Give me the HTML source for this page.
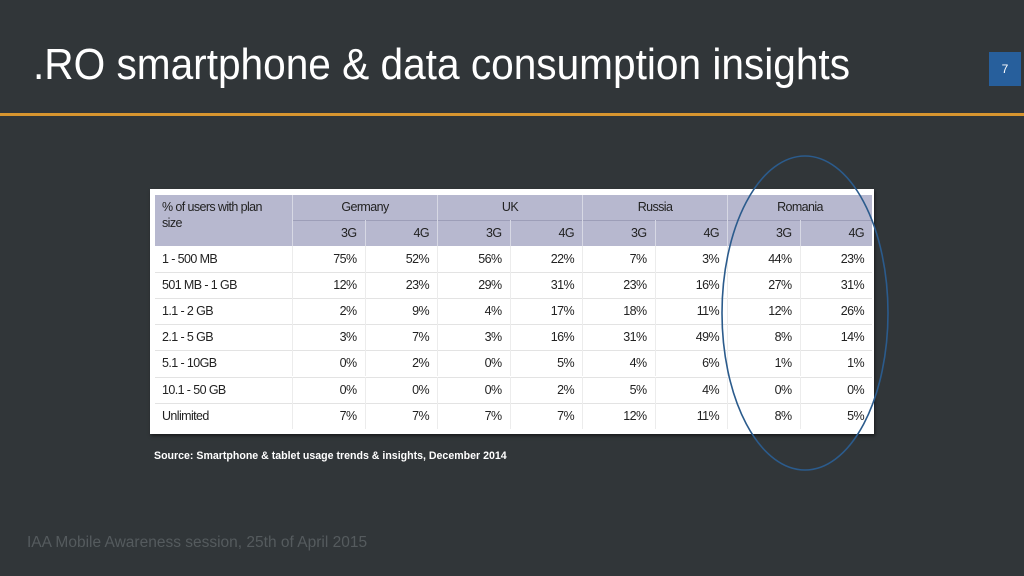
<!DOCTYPE html>
<html><head><meta charset="utf-8">
<style>
body{margin:0;width:1024px;height:576px;background:#313639;position:relative;overflow:hidden;font-family:"Liberation Sans Narrow","Liberation Sans",sans-serif}
#title{position:absolute;left:33px;top:40px;color:#fff;font-size:44px;white-space:nowrap;transform-origin:0 0}
#rule{position:absolute;left:0;top:113px;width:1024px;height:3px;background:#d7952f}
#pnum{position:absolute;left:989px;top:52px;width:32px;height:34px;background:#275f9c;color:#fff;font-family:"Liberation Sans",sans-serif;font-size:12px;text-align:center;line-height:34px}
#tbl{position:absolute;left:150px;top:189px;width:724px;height:245px;background:#fff;box-shadow:1px 2px 3px rgba(0,0,0,.5)}
.c{position:absolute;font-size:12.5px;letter-spacing:-0.6px;color:#222;box-sizing:border-box;white-space:nowrap}
#src{position:absolute;left:154px;top:450px;color:#fff;font-family:"Liberation Sans",sans-serif;font-weight:bold;font-size:10.6px}
#foot{position:absolute;left:27px;top:534px;color:#555b5e;font-family:"Liberation Sans",sans-serif;font-size:15.5px}
svg{position:absolute;left:0;top:0}
</style></head><body>
<div id="title">.RO smartphone &amp; data consumption insights</div>
<div id="pnum">7</div>
<div id="rule"></div>
<div id="tbl"></div>
<div id="src">Source: Smartphone &amp; tablet usage trends &amp; insights, December 2014</div>
<div id="foot">IAA Mobile Awareness session, 25th of April 2015</div>
<svg width="1024" height="576"><ellipse cx="805" cy="313" rx="83" ry="157" fill="none" stroke="#2b5b8c" stroke-width="1.6"/></svg>
<script>
const countries=["Germany","UK","Russia","Romania"];
const techs=["3G","4G"];
const rowLabels=["1 - 500 MB","501 MB - 1 GB","1.1 - 2 GB","2.1 - 5 GB","5.1 - 10GB","10.1 - 50 GB","Unlimited"];
const germany3G=[75,12,2,3,0,0,7], germany4G=[52,23,9,7,2,0,7];
const uk3G=[56,29,4,3,0,0,7], uk4G=[22,31,17,16,5,2,7];
const russia3G=[7,23,18,31,4,5,12], russia4G=[3,16,11,49,6,4,11];
const romania3G=[44,27,12,8,1,0,8], romania4G=[23,31,26,14,1,0,5];
const series=[germany3G,germany4G,uk3G,uk4G,russia3G,russia4G,romania3G,romania4G];

const t=document.getElementById('title');
t.style.transform='scaleX('+(817/t.getBoundingClientRect().width)+')';
const tb=document.getElementById('tbl');
const X0=142,CW=72.5,Y0=6,H1=25,H2=26,RH=26.1;
function add(css,txt){const d=document.createElement('div');d.className='c';Object.assign(d.style,css);if(txt!==undefined)d.textContent=txt;tb.appendChild(d);return d;}
let hb=add({left:'5px',top:Y0+'px',width:(X0+CW*8-5)+'px',height:(H1+H2)+'px',background:'#b7b8cf'});


let hl=add({left:'12px',top:(Y0+4)+'px',lineHeight:'16px'},'');hl.innerHTML='% of users with plan<br>size';


add({left:X0+'px',top:(Y0+H1)+'px',width:(CW*8)+'px',height:'1px',background:'#9d9eb8'});
countries.forEach((c,i)=>{
 const d=add({left:(X0+i*2*CW)+'px',top:Y0+'px',width:(2*CW)+'px',height:H1+'px',lineHeight:H1+'px',textAlign:'center',borderLeft:'1px solid #d7d8e4'},c);
 
 
 techs.forEach((tt,j)=>{
  const e=add({left:(X0+(i*2+j)*CW)+'px',top:(Y0+H1)+'px',width:CW+'px',height:H2+'px',lineHeight:H2+'px',textAlign:'right',paddingRight:'8px',borderLeft:'1px solid #d7d8e4'},tt);
  
  
 });
});
rowLabels.forEach((r,k)=>{
 const y=Y0+H1+H2+k*RH;
 if(k>0)add({left:'5px',top:y+'px',width:(X0+CW*8-5)+'px',height:'1px',background:'#e3e3e3'});
 const l=add({left:'12px',top:y+'px',height:RH+'px',lineHeight:RH+'px'},r);
 
 
 series.forEach((s,m)=>{
  const v=add({left:(X0+m*CW)+'px',top:y+'px',width:CW+'px',height:RH+'px',lineHeight:RH+'px',textAlign:'right',paddingRight:'8px',borderLeft:'1px solid #ececec'},s[k]+'%');
  
  
 });
});
</script>
</body></html>
